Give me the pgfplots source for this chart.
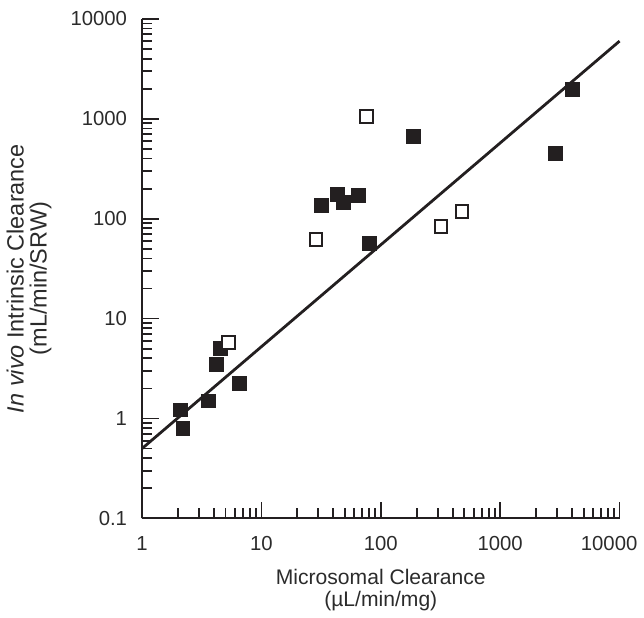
\documentclass[border=0pt]{standalone}
\usepackage{pgfplots}
\pgfplotsset{compat=1.18}
\usepackage{fontspec}
\setmainfont{Liberation Sans}
\definecolor{ink}{HTML}{231F20}
\definecolor{txt}{HTML}{2B2B2B}
\begin{document}
\begin{tikzpicture}
\begin{axis}[
 scale only axis, width=240pt, height=251pt,
 xmode=log, ymode=log, xmin=1, xmax=10000, ymin=0.1, ymax=10000,
 axis x line*=bottom, axis y line*=left,
 axis line style={line width=1pt, draw=ink},
 tick align=inside,
 major tick length=8.5pt, minor tick length=5pt,
 every tick/.style={ink, line width=0.9pt},
 xtick={1,10,100,1000,10000}, ytick={0.1,1,10,100,1000,10000},
 xticklabels={1,10,100,1000,{\kern-10.5pt 10000}},
 yticklabels={0.1,1,10,100,1000,{\raisebox{-1.5pt}{10000}}},
 /pgf/number format/assume math mode=true,
 ticklabel style={font=\fontsize{10.2}{12}\selectfont, text=txt},
 xticklabel style={yshift=-5.5pt},
 yticklabel style={xshift=-4pt},
 clip=false,
 xlabel={Microsomal Clearance\\(\textmu L/min/mg)},
 xlabel style={at={([yshift=-22pt]axis description cs:0.5,0)}, anchor=north, align=center, font=\fontsize{10.6}{11}\selectfont, text=txt},
 ylabel={\textit{In vivo} Intrinsic Clearance\\(mL/min/SRW)},
 ylabel style={at={([xshift=-42pt,yshift=-5pt]axis description cs:0,0.5)}, anchor=south, align=center, font=\fontsize{11.8}{11.5}\selectfont, text=txt},
]
\path (rel axis cs:0,1) ++(0pt,9.5pt);
\addplot[ink, line width=1.4pt, no marks] coordinates {(1,0.5) (10000,6000)};
\addplot[only marks, mark=square*, mark size=3.5pt, mark options={fill=ink, draw=ink, line width=0.4pt}] coordinates {
(2.08,1.22) (2.2,0.8) (3.6,1.5) (4.2,3.5) (4.55,5.0) (6.6,2.25)
(32,137) (43,177) (48.5,146) (65,170) (80,56) (186,660) (2900,450) (4060,1960)
};
\addplot[only marks, mark=square*, mark size=3.2pt, mark options={fill=white, draw=ink, line width=1pt}] coordinates {
(5.3,5.8) (28.7,62) (76,1060) (320,84) (478,119)
};
\end{axis}
\end{tikzpicture}
\end{document}
